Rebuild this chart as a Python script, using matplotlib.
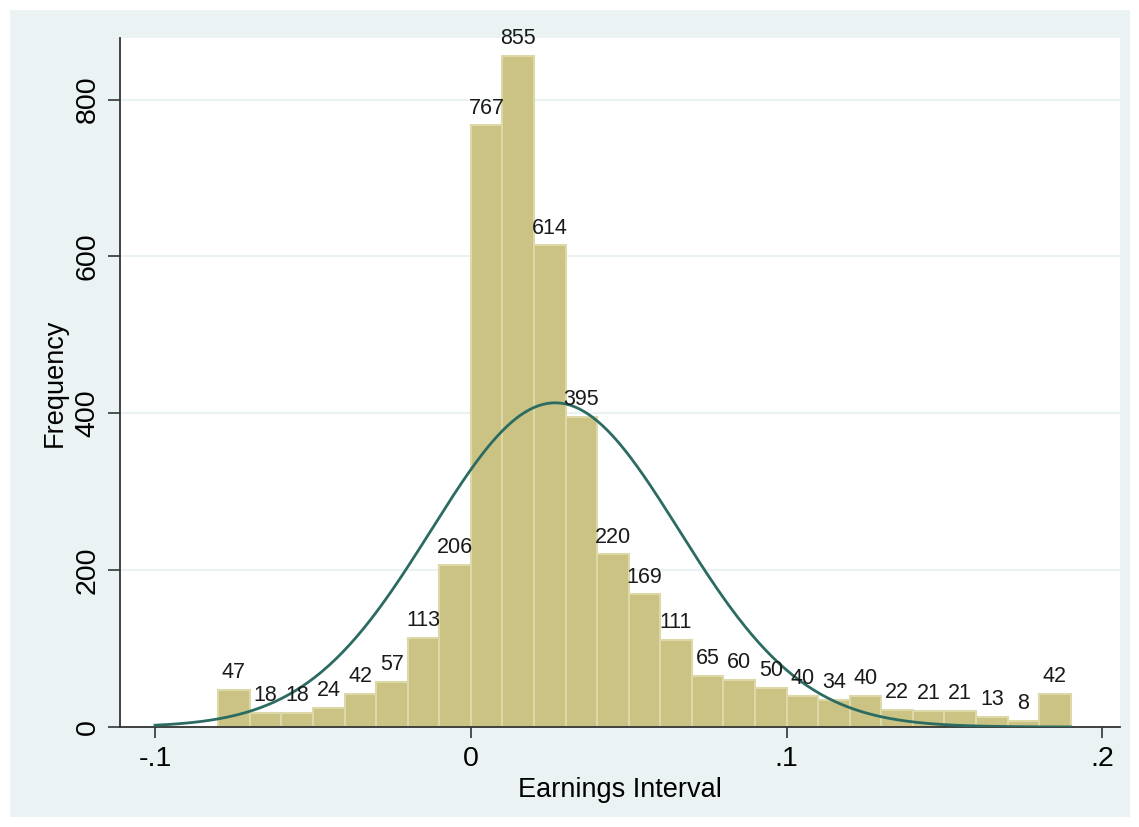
import numpy as np
import matplotlib.pyplot as plt
from matplotlib.patches import Rectangle

plt.rcParams['font.family'] = ['Liberation Sans', 'DejaVu Sans']

# histogram data (bin width .01, first bin starts at -.08)
bin_start = -0.08
bin_width = 0.01
counts = [47, 18, 18, 24, 42, 57, 113, 206, 767, 855, 614, 395, 220, 169, 111,
          65, 60, 50, 40, 34, 40, 22, 21, 21, 13, 8, 42]

# normal density overlay (scaled to frequency)
norm_mean = 0.0267
norm_sd = 0.0393
curve_range = (-0.1, 0.19)

xticks = [-0.1, 0, 0.1, 0.2]
xtick_labels = ["-.1", "0", ".1", ".2"]
yticks = [0, 200, 400, 600, 800]

BG = "#EAF2F3"
BAR = "#CBC383"
BAR_EDGE = "#DDD8A8"
CURVE = "#2B6B62"

fig = plt.figure(figsize=(11.39, 8.27), dpi=100)
fig.patch.set_facecolor("white")
fig.patches.append(Rectangle((10 / 1139, 10 / 827), 1120 / 1139, 807 / 827,
                             transform=fig.transFigure, facecolor=BG,
                             edgecolor="none", zorder=-10))

ax = fig.add_axes([120 / 1139, 1 - 727 / 827, 1000 / 1139, 689 / 827])
ax.set_facecolor("white")

lefts = [bin_start + i * bin_width for i in range(len(counts))]
ax.bar(lefts, counts, width=bin_width, align="edge", color=BAR,
       edgecolor=BAR_EDGE, linewidth=1.5, zorder=2)

for x0, c in zip(lefts, counts):
    ax.annotate(str(c), (x0 + bin_width / 2, c), xytext=(0, 5),
                textcoords="offset points", ha="center", va="bottom",
                fontsize=15.5, color="#1a1a1a", zorder=4, annotation_clip=False)

N = sum(counts)
xs = np.linspace(curve_range[0], curve_range[1], 400)
ys = N * bin_width / (norm_sd * np.sqrt(2 * np.pi)) * np.exp(-0.5 * ((xs - norm_mean) / norm_sd) ** 2)
ax.plot(xs, ys, color=CURVE, linewidth=2, zorder=3)

ax.set_xlim(-0.1111, 0.2056)
ax.set_ylim(0, 878.5)
ax.set_xticks(xticks)
ax.set_xticklabels(xtick_labels)
ax.set_yticks(yticks)
ax.set_yticklabels([str(v) for v in yticks], rotation=90, va="center")
ax.tick_params(axis="x", length=8, width=1.2, labelsize=20.5, pad=6, color="#333333")
ax.tick_params(axis="y", length=9, width=1.2, labelsize=20.5, pad=5, color="#333333")

ax.grid(axis="y", color=BG, linewidth=1.5, zorder=0)
ax.set_axisbelow(True)
for s in ["top", "right"]:
    ax.spines[s].set_visible(False)
for s in ["left", "bottom"]:
    ax.spines[s].set_color("#333333")
    ax.spines[s].set_linewidth(1.3)

ax.set_xlabel("Earnings Interval", fontsize=19.5, labelpad=3)
ax.set_ylabel("Frequency", fontsize=19.5, labelpad=5)

fig.savefig("out.png", dpi=100)
